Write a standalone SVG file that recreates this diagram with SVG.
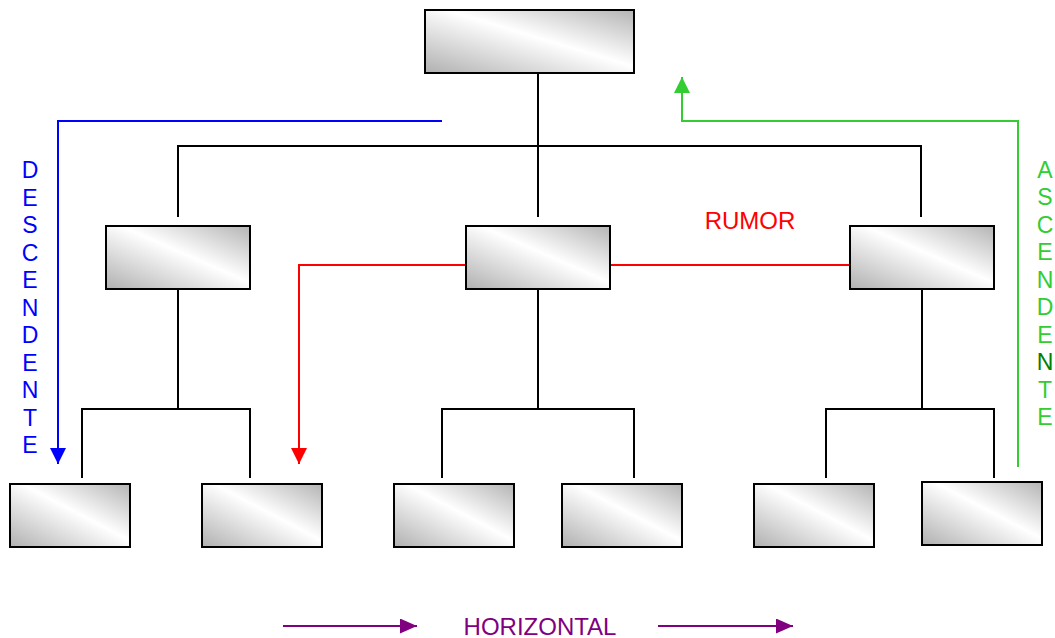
<svg xmlns="http://www.w3.org/2000/svg" width="1055" height="638" viewBox="0 0 1055 638">
  <style>
    .box { fill: url(#shade); stroke: #000; stroke-width: 2; }
    .tree { fill: none; stroke: #000; stroke-width: 2; }
    .lbl { font-family: "Liberation Sans", Arial, sans-serif; text-anchor: middle; }
  </style>
  <defs>
    <linearGradient id="shade" x1="0" y1="1" x2="1" y2="0">
      <stop offset="0" stop-color="#b0b0b0"/>
      <stop offset="0.55" stop-color="#ffffff"/>
      <stop offset="1" stop-color="#b4b4b4"/>
    </linearGradient>
    <marker id="ah-blue" viewBox="0 0 10 10" refX="10" refY="5" markerWidth="16" markerHeight="16" markerUnits="userSpaceOnUse" orient="auto">
      <path d="M0,0 L10,5 L0,10 z" fill="#0000ff"/>
    </marker>
    <marker id="ah-red" viewBox="0 0 10 10" refX="10" refY="5" markerWidth="16" markerHeight="16" markerUnits="userSpaceOnUse" orient="auto">
      <path d="M0,0 L10,5 L0,10 z" fill="#ff0000"/>
    </marker>
    <marker id="ah-green" viewBox="0 0 10 10" refX="10" refY="5" markerWidth="16" markerHeight="16" markerUnits="userSpaceOnUse" orient="auto">
      <path d="M0,0 L10,5 L0,10 z" fill="#33cc33"/>
    </marker>
    <marker id="ah-purple" viewBox="0 0 10 10" refX="10" refY="5" markerWidth="17" markerHeight="15" markerUnits="userSpaceOnUse" orient="auto" preserveAspectRatio="none">
      <path d="M0,0 L10,5 L0,10 z" fill="#800080"/>
    </marker>
  </defs>

  <!-- connectors -->
  <g id="connectors">
    <!-- org tree -->
    <path class="tree" d="M538,73 V146 M178,217 V146 H921 V217 M538,146 V217"/>
    <path class="tree" d="M178,289 V409 M82,478 V409 H250 V478"/>
    <path class="tree" d="M538,289 V409 M442,478 V409 H634 V478"/>
    <path class="tree" d="M922,289 V409 M826,478 V409 H994 V478"/>
    <!-- downward flow -->
    <path d="M442,121 H58 V464" fill="none" stroke="#0000ff" stroke-width="2" marker-end="url(#ah-blue)"/>
    <!-- upward flow -->
    <path d="M1018,467 V121 H682 V77" fill="none" stroke="#33cc33" stroke-width="2" marker-end="url(#ah-green)"/>
    <!-- rumour -->
    <path d="M850,265 H299 V464" fill="none" stroke="#ff0000" stroke-width="2" marker-end="url(#ah-red)"/>
    <!-- horizontal flow -->
    <path d="M283,626 H417" fill="none" stroke="#800080" stroke-width="2" marker-end="url(#ah-purple)"/>
    <path d="M658,626 H793" fill="none" stroke="#800080" stroke-width="2" marker-end="url(#ah-purple)"/>
  </g>

  <!-- nodes -->
  <g id="n-top"><rect class="box" x="425" y="10" width="209" height="63"/></g>
  <g id="n-mid-left"><rect class="box" x="106" y="226" width="144" height="63"/></g>
  <g id="n-mid-center"><rect class="box" x="466" y="226" width="144" height="63"/></g>
  <g id="n-mid-right"><rect class="box" x="850" y="226" width="144" height="63"/></g>
  <g id="n-bot-1"><rect class="box" x="10" y="484" width="120" height="63"/></g>
  <g id="n-bot-2"><rect class="box" x="202" y="484" width="120" height="63"/></g>
  <g id="n-bot-3"><rect class="box" x="394" y="484" width="120" height="63"/></g>
  <g id="n-bot-4"><rect class="box" x="562" y="484" width="120" height="63"/></g>
  <g id="n-bot-5"><rect class="box" x="754" y="484" width="120" height="63"/></g>
  <g id="n-bot-6"><rect class="box" x="922" y="482" width="120" height="63"/></g>

  <!-- labels -->
  <g id="lbl-descendente" class="lbl" fill="#0000ff" font-size="23">
    <text x="30" y="178">D</text>
    <text x="30" y="205.5">E</text>
    <text x="30" y="233">S</text>
    <text x="30" y="260.5">C</text>
    <text x="30" y="288">E</text>
    <text x="30" y="315.5">N</text>
    <text x="30" y="343">D</text>
    <text x="30" y="370.5">E</text>
    <text x="30" y="398">N</text>
    <text x="30" y="425.5">T</text>
    <text x="30" y="453">E</text>
  </g>
  <g id="lbl-ascendente" class="lbl" fill="#33cc33" font-size="23">
    <text x="1045" y="177.5">A</text>
    <text x="1045" y="205">S</text>
    <text x="1045" y="232.5">C</text>
    <text x="1045" y="260">E</text>
    <text x="1045" y="287.5">N</text>
    <text x="1045" y="315">D</text>
    <text x="1045" y="342.5">E</text>
    <text x="1045" y="370" fill="#008000">N</text>
    <text x="1045" y="397.5">T</text>
    <text x="1045" y="425">E</text>
  </g>
  <text id="lbl-rumor" class="lbl" x="750" y="229" font-size="24" fill="#ff0000">RUMOR</text>
  <text id="lbl-horizontal" class="lbl" x="540" y="635" font-size="24" fill="#800080">HORIZONTAL</text>
</svg>
